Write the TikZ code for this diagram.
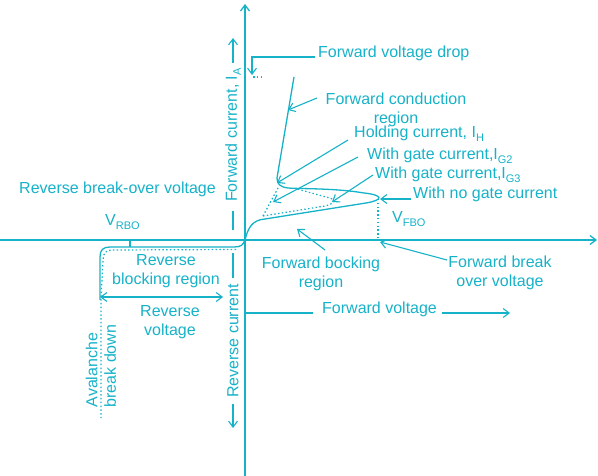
\documentclass[tikz,border=0pt]{standalone}
\usepackage{fontspec}
\setmainfont{Liberation Sans}
\usetikzlibrary{arrows.meta}
\definecolor{tb}{RGB}{22,178,200}
\newcommand\sbx[1]{\raisebox{-4pt}{\fontsize{11}{11}\selectfont #1}}
\begin{document}
\begin{tikzpicture}[x=1pt,y=-1pt,
  every node/.style={text=tb, font=\fontsize{16}{18.5}\selectfont, inner sep=0pt},
  lbl/.style={anchor=west, text height=9pt, text depth=7pt},
  mlbl/.style={align=center},
  ln/.style={draw=tb, line width=1.3pt},
  thin/.style={draw=tb, line width=1.1pt},
  tip/.style={-{Straight Barb[length=6pt,width=9pt]}},
  arr/.style={draw=tb, line width=1.1pt, tip},
  dots/.style={draw=tb, line width=1.2pt, dash pattern=on 1.5pt off 2.3pt}]
\useasboundingbox (0,0) rectangle (598,476);

% axes
\coordinate (xl) at (0,240); \coordinate (xr) at (597,240);
\coordinate (yb) at (245,476); \coordinate (yt) at (245,4);
\draw[ln, tip] (xl) -- (xr);
\draw[ln, tip] (yb) -- (yt);

% main characteristic (no gate current)
\coordinate (o) at (245,240);
\coordinate (nose) at (378,199);
\draw[ln] (100,300) -- (100,257) .. controls (100,250) and (103,247) .. (110,247)
  -- (234,247) .. controls (241,247) and (243,245) .. (o)
  .. controls (248,228) and (252,220) .. (265,219) -- (366,203)
  .. controls (384,200) and (383,195) .. (364,193)
  .. controls (335,188) and (300,189) .. (288,188)
  .. controls (280,187) and (277,184) .. (277,178) -- (294,77);

% dotted curves
\draw[dots] (263,216) -- (325,206) .. controls (337,203) and (336,199) .. (326,197) -- (297,189);
\draw[dots] (263,216) -- (278,188);
\draw[dots] (236,249.5) -- (112,250) .. controls (106,250) and (103,253) .. (103,260) -- (101,300) -- (101,418);
\draw[dots] (nose) -- (378,240);
\draw[dots] (253,77) -- (262,77);
\draw[thin] (130,240) -- (130,247);

% axis labels
\node[rotate=90] (fc) at (233,135) {Forward current, I\sbx{A}};
\draw[thin] (233,230) -- (233,211);
\draw[arr] (233,63) -- (233,38);
\node[rotate=90] (rc) at (233,341) {Reverse current};
\draw[thin] (233,253) -- (233,278);
\draw[arr] (233,404) -- (233,428);
\node[lbl] (fv) at (322,313) {Forward voltage};
\draw[thin] (245,313) -- (313,313);
\draw[arr] (442,313) -- (510,313);

% labels
\node[lbl] (fvd) at (318,57) {Forward voltage drop};
\coordinate (c1) at (252,57);
\draw[arr] (315,57) -- (c1) -- (252,75);

\node[mlbl] (fcr) at (396,110) {Forward conduction\\region};
\draw[arr] (317,98) -- (288,110);

\node[lbl] (hc) at (354,137) {Holding current, I\sbx{H}};
\draw[arr] (348,140) -- (277,183);

\node[lbl] (g2) at (367,159) {With gate current,I\sbx{G2}};
\draw[arr] (358,157) -- (273,202);

\node[lbl] (g3) at (375,178) {With gate current,I\sbx{G3}};
\draw[arr] (373,175) -- (332,202);

\node[lbl] (ng) at (413,198) {With no gate current};
\draw[arr] (411,199) -- (380,199);

\node[lbl] (vfbo) at (392,222) {V\sbx{FBO}};

\node[lbl] (rbv) at (19,193) {Reverse break-over voltage};
\node[lbl] (vrbo) at (105,225) {V\sbx{RBO}};

\node[mlbl] (rbr) at (166,271) {Reverse\\blocking region};
\node[mlbl] (rv) at (170,322) {Reverse\\voltage};
\draw[thin, {Straight Barb[length=6pt,width=9pt]}-{Straight Barb[length=6pt,width=9pt]}] (100,297) -- (223,297);

\node[mlbl, rotate=90, align=left] (ab) at (101,366) {Avalanche\\break down};

\node[mlbl] (fbr) at (321,274) {Forward bocking\\region};
\draw[arr] (325,250) -- (297,229);

\node[mlbl] (fbo) at (500,273) {Forward break\\over voltage};
\draw[arr] (447,260) -- (380,242);
\end{tikzpicture}
\end{document}
